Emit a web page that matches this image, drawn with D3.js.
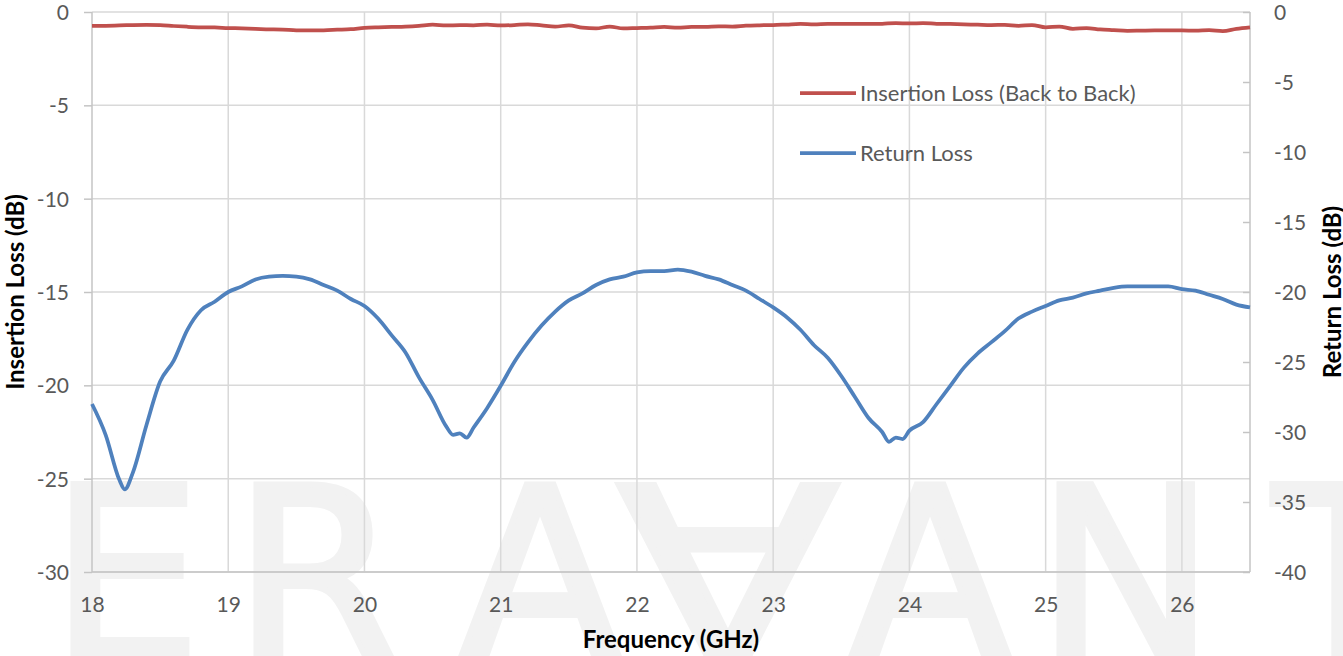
<!DOCTYPE html>
<html>
<head>
<meta charset="utf-8">
<script src="https://d3js.org/d3.v7.min.js"></script>
<style>
  body { margin: 0; background: #fff; }
  svg { display: block; }
</style>
</head>
<body>
<script>
// Insertion loss (left axis), sampled every 0.1 GHz
const ilFreq = [18.0, 18.1, 18.2, 18.3, 18.4, 18.5, 18.6, 18.7, 18.8, 18.9,
  19.0, 19.1, 19.2, 19.3, 19.4, 19.5, 19.6, 19.7, 19.8, 19.9,
  20.0, 20.1, 20.2, 20.3, 20.4, 20.5, 20.6, 20.7, 20.8, 20.9,
  21.0, 21.1, 21.2, 21.3, 21.4, 21.5, 21.6, 21.7, 21.8, 21.9,
  22.0, 22.1, 22.2, 22.3, 22.4, 22.5, 22.6, 22.7, 22.8, 22.9,
  23.0, 23.1, 23.2, 23.3, 23.4, 23.5, 23.6, 23.7, 23.8, 23.9,
  24.0, 24.1, 24.2, 24.3, 24.4, 24.5, 24.6, 24.7, 24.8, 24.9,
  25.0, 25.1, 25.2, 25.3, 25.4, 25.5, 25.6, 25.7, 25.8, 25.9,
  26.0, 26.1, 26.2, 26.3, 26.4, 26.5];
const ilValues = [-0.75, -0.74, -0.72, -0.70, -0.69, -0.70, -0.75, -0.79, -0.82, -0.83,
  -0.86, -0.88, -0.91, -0.93, -0.95, -0.98, -0.99, -0.98, -0.95, -0.92,
  -0.85, -0.82, -0.80, -0.78, -0.74, -0.68, -0.72, -0.70, -0.71, -0.68,
  -0.72, -0.70, -0.66, -0.72, -0.78, -0.72, -0.84, -0.88, -0.78, -0.88,
  -0.86, -0.84, -0.80, -0.84, -0.80, -0.80, -0.77, -0.78, -0.73, -0.71,
  -0.70, -0.67, -0.64, -0.66, -0.63, -0.64, -0.63, -0.64, -0.63, -0.60,
  -0.61, -0.60, -0.63, -0.64, -0.66, -0.68, -0.70, -0.69, -0.74, -0.70,
  -0.82, -0.78, -0.90, -0.86, -0.93, -0.97, -1.01, -1.00, -0.99, -0.99,
  -0.99, -1.00, -0.97, -1.02, -0.90, -0.82];

// Return loss (right axis)
const rlFreq = [18.0, 18.1, 18.2, 18.24, 18.3, 18.4, 18.5, 18.6, 18.7, 18.8, 18.9,
  19.0, 19.1, 19.2, 19.3, 19.4, 19.5, 19.6, 19.7, 19.8, 19.9,
  20.0, 20.1, 20.2, 20.3, 20.4, 20.5, 20.6, 20.65, 20.7, 20.75, 20.8, 20.9,
  21.0, 21.1, 21.2, 21.3, 21.4, 21.5, 21.6, 21.7, 21.8, 21.9,
  22.0, 22.1, 22.2, 22.3, 22.4, 22.5, 22.6, 22.7, 22.8, 22.9,
  23.0, 23.1, 23.2, 23.3, 23.4, 23.5, 23.6, 23.7, 23.8, 23.85, 23.9, 23.95,
  24.0, 24.1, 24.2, 24.3, 24.4, 24.5, 24.6, 24.7, 24.8, 24.9,
  25.0, 25.1, 25.2, 25.3, 25.4, 25.5, 25.6, 25.7, 25.8, 25.9,
  26.0, 26.1, 26.2, 26.3, 26.4, 26.5];
const rlValues = [-28.0, -30.2, -33.4, -34.1, -32.9, -29.5, -26.4, -24.9, -22.7, -21.3, -20.7,
  -20.0, -19.6, -19.1, -18.9, -18.85, -18.9, -19.1, -19.5, -19.9, -20.5,
  -21.0, -21.9, -23.1, -24.3, -26.1, -27.7, -29.6, -30.2, -30.1, -30.4, -29.7, -28.3,
  -26.7, -25.0, -23.6, -22.4, -21.4, -20.6, -20.1, -19.5, -19.1, -18.9,
  -18.6, -18.5, -18.5, -18.4, -18.55, -18.85, -19.1, -19.5, -19.9, -20.5,
  -21.1, -21.8, -22.7, -23.8, -24.7, -26.0, -27.5, -29.0, -30.0, -30.7, -30.4, -30.5,
  -29.9, -29.3, -28.0, -26.7, -25.4, -24.4, -23.6, -22.8, -21.9, -21.4,
  -21.0, -20.6, -20.4, -20.1, -19.9, -19.7, -19.6, -19.6, -19.6, -19.6,
  -19.8, -19.9, -20.2, -20.5, -20.9, -21.1];

const xTicks = [18, 19, 20, 21, 22, 23, 24, 25, 26];
const leftTicks = [0, -5, -10, -15, -20, -25, -30];
const rightTicks = [0, -5, -10, -15, -20, -25, -30, -35, -40];
const seriesNames = ["Insertion Loss (Back to Back)", "Return Loss"];
const watermark = ["E", "R", "A", "\u2200", "A", "N", "T"];

const W = 1343, H = 656;
const plot = { left: 92, right: 1250, top: 12, bottom: 572 };
const red = "#c0504d", blue = "#4f81bd";
const labelFont = "Lato, 'Open Sans', sans-serif";

const svg = d3.select("body").append("svg")
  .attr("width", W)
  .attr("height", H);

// Watermark letters sit behind everything
const wmX = [50, 233, 540, 728, 930, 1036, 1273];
const wmScale = [1, 1, 1, 1.35, 1, 1, 1];
const wmAnchor = ["start", "start", "middle", "middle", "middle", "start", "start"];
svg.append("g")
  .selectAll("text")
  .data(watermark)
  .join("text")
  .attr("transform", (d, i) => `translate(${wmX[i]},660) scale(${wmScale[i]},1)`)
  .attr("text-anchor", (d, i) => wmAnchor[i])
  .style("font-family", "'DejaVu Sans', sans-serif")
  .style("font-size", "240px")
  .style("fill", "#f2f2f2")
  .style("stroke", "#f2f2f2")
  .style("stroke-width", 6)
  .text(d => d);

// Scales
const x = d3.scaleLinear().domain([18, 26.5]).range([plot.left, plot.right]);
const yLeft = d3.scaleLinear().domain([-30, 0]).range([plot.bottom, plot.top]);
const yRight = d3.scaleLinear().domain([-40, 0]).range([plot.bottom, plot.top]);

// Gridlines
const grid = svg.append("g").attr("stroke", "#d9d9d9").attr("stroke-width", 1.5);
grid.selectAll(".hgrid")
  .data(leftTicks)
  .join("line")
  .attr("x1", plot.left).attr("x2", plot.right)
  .attr("y1", d => yLeft(d)).attr("y2", d => yLeft(d));
grid.selectAll(".vgrid")
  .data(xTicks.slice(1))
  .join("line")
  .attr("x1", d => x(d)).attr("x2", d => x(d))
  .attr("y1", plot.top).attr("y2", plot.bottom);

// Axis lines (left, right, bottom)
const frame = svg.append("g").attr("stroke", "#c4c4c4").attr("stroke-width", 1.5);
frame.append("line").attr("x1", plot.left).attr("x2", plot.left).attr("y1", plot.top).attr("y2", plot.bottom);
frame.append("line").attr("x1", plot.right).attr("x2", plot.right).attr("y1", plot.top).attr("y2", plot.bottom);
frame.append("line").attr("x1", plot.left).attr("x2", plot.right).attr("y1", plot.bottom).attr("y2", plot.bottom);

// Excel style labels use a plain hyphen for negatives
const fmt = d => String(d);

// Left axis, ticks outside
const leftAxis = svg.append("g")
  .attr("transform", `translate(${plot.left},0)`)
  .call(d3.axisLeft(yLeft).tickValues(leftTicks).tickSize(8).tickSizeOuter(0).tickPadding(15).tickFormat(fmt));

// Right axis, ticks point into the plot
const rightAxis = svg.append("g")
  .attr("transform", `translate(${plot.right},0)`)
  .call(d3.axisRight(yRight).tickValues(rightTicks).tickSize(-7).tickSizeOuter(0).tickPadding(24).tickFormat(fmt));

// Bottom axis, labels only
const bottomAxis = svg.append("g")
  .attr("transform", `translate(0,${plot.bottom})`)
  .call(d3.axisBottom(x).tickValues(xTicks).tickSize(0).tickPadding(25).tickFormat(fmt));

[leftAxis, rightAxis, bottomAxis].forEach(g => {
  g.select(".domain").remove();
  g.selectAll(".tick line").attr("stroke", "#c4c4c4").attr("stroke-width", 1.5);
  g.selectAll(".tick text")
    .style("font-family", labelFont)
    .style("font-size", "21px")
    .attr("fill", "#595959");
});
leftAxis.selectAll(".tick text").attr("dy", "0.36em");
rightAxis.selectAll(".tick text").attr("dy", "0.36em");

// Lines
const ilLine = d3.line()
  .x((d, i) => x(ilFreq[i]))
  .y(d => yLeft(d))
  .curve(d3.curveMonotoneX);
const rlLine = d3.line()
  .x((d, i) => x(rlFreq[i]))
  .y(d => yRight(d))
  .curve(d3.curveMonotoneX);

svg.append("path")
  .datum(rlValues)
  .attr("d", rlLine)
  .attr("fill", "none")
  .attr("stroke", blue)
  .attr("stroke-width", 3.75)
  .attr("stroke-linejoin", "round");

svg.append("path")
  .datum(ilValues)
  .attr("d", ilLine)
  .attr("fill", "none")
  .attr("stroke", red)
  .attr("stroke-width", 3.75)
  .attr("stroke-linejoin", "round");

// Legend
const legend = svg.append("g");
[red, blue].forEach((c, i) => {
  const ly = 93 + i * 60;
  legend.append("line")
    .attr("x1", 800).attr("x2", 856)
    .attr("y1", ly).attr("y2", ly)
    .attr("stroke", c)
    .attr("stroke-width", 3.75);
  legend.append("text")
    .attr("x", 860)
    .attr("y", ly + 8)
    .style("font-family", labelFont)
    .style("font-size", "22px")
    .attr("fill", "#595959")
    .text(seriesNames[i]);
});

// Axis titles
const titleStyle = sel => sel
  .style("font-family", labelFont)
  .style("font-size", "24px")
  .style("font-weight", "bold")
  .attr("fill", "#000")
  .attr("text-anchor", "middle");

svg.append("text")
  .attr("x", (plot.left + plot.right) / 2)
  .attr("y", 648)
  .call(titleStyle)
  .text("Frequency (GHz)");

svg.append("text")
  .attr("transform", `translate(24,${(plot.top + plot.bottom) / 2}) rotate(-90)`)
  .call(titleStyle)
  .text("Insertion Loss (dB)");

svg.append("text")
  .attr("transform", `translate(1341,${(plot.top + plot.bottom) / 2}) rotate(-90)`)
  .call(titleStyle)
  .text("Return Loss (dB)");
</script>
</body>
</html>
